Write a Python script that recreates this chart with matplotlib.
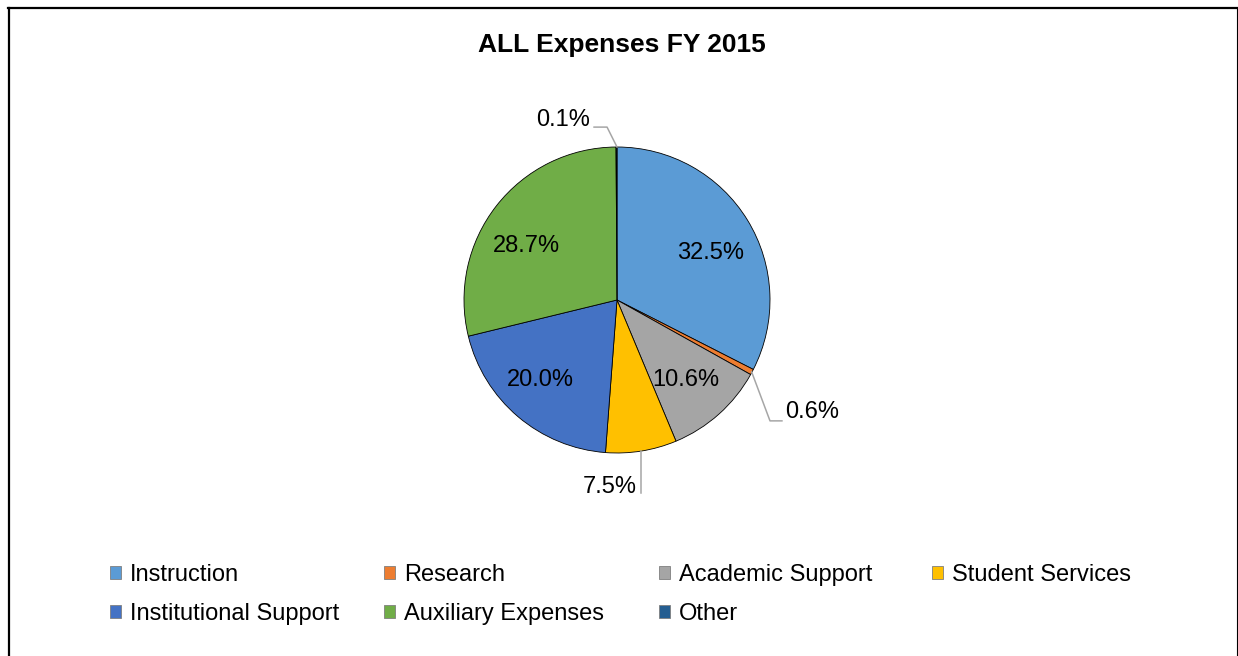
import matplotlib.pyplot as plt
from matplotlib.patches import Patch
from matplotlib.lines import Line2D

plt.rcParams['font.family'] = ['Liberation Sans', 'DejaVu Sans']

categorias = ['Instruction', 'Research', 'Academic Support', 'Student Services',
              'Institutional Support', 'Auxiliary Expenses', 'Other']
porcentajes = [32.5, 0.6, 10.6, 7.5, 20.0, 28.7, 0.1]
colores = ['#5B9BD5', '#ED7D31', '#A5A5A5', '#FFC000', '#4472C4', '#70AD47', '#255E91']
titulo = 'ALL Expenses FY 2015'

W, H = 1238, 656
fig = plt.figure(figsize=(W / 100, H / 100), dpi=100)

# marco del grafico
fig.add_artist(Line2D([9 / W, 9 / W], [0, 1 - 8 / H], color='black', lw=1.6))
fig.add_artist(Line2D([8 / W, 1237 / W], [1 - 8 / H, 1 - 8 / H], color='black', lw=1.6))
fig.add_artist(Line2D([1237 / W, 1237 / W], [0, 1 - 8 / H], color='black', lw=0.8))

fig.text(622 / W, 1 - 45 / H, titulo, ha='center', va='center',
         fontsize=19, fontweight='bold')

# ejes cuadrados para el pastel (radio 153 px, centro en 617,300)
R = 153
ax = fig.add_axes([(617 - R) / W, (H - 300 - R) / H, 2 * R / W, 2 * R / H])

wedges, _ = ax.pie(porcentajes, colors=colores, startangle=90, counterclock=False,
                   radius=1, wedgeprops=dict(edgecolor='black', linewidth=0.6))
ax.set_xlim(-1, 1)
ax.set_ylim(-1, 1)
ax.axis('off')

# etiquetas dentro de las porciones grandes
dentro = {0: (0.61, 0.31), 2: (0.45, -0.52), 4: (-0.5, -0.52), 5: (-0.59, 0.35)}
for i, (x, y) in dentro.items():
    ax.text(x, y, f'{porcentajes[i]:.1f}%', ha='center', va='center', fontsize=17)

# etiquetas fuera con lineas guia
gris = '#A6A6A6'
ax.plot([0.88, 1.0, 1.078], [-0.47, -0.79, -0.79], color=gris, lw=1.1, clip_on=False)
ax.text(1.10, -0.73, f'{porcentajes[1]:.1f}%', ha='left', va='center', fontsize=17)

ax.plot([0.157, 0.157], [-0.99, -1.26], color=gris, lw=1.1, clip_on=False)
ax.text(0.13, -1.22, f'{porcentajes[3]:.1f}%', ha='right', va='center', fontsize=17)

ax.plot([0.0, -0.065, -0.15], [1.0, 1.13, 1.13], color=gris, lw=1.1, clip_on=False)
ax.text(-0.175, 1.176, f'{porcentajes[6]:.1f}%', ha='right', va='center', fontsize=17)

# leyenda en cuatro columnas de ancho fijo
columnas = [[0, 4], [1, 5], [2, 6], [3]]
xs = [111, 385, 660, 933]
for idx, x in zip(columnas, xs):
    handles = [Patch(facecolor=colores[i], edgecolor='#7F7F7F', linewidth=0.6) for i in idx]
    labels = [categorias[i] for i in idx]
    leg = fig.legend(handles, labels, loc='upper left',
                     bbox_to_anchor=((x - 1) / W, 1 - 564 / H),
                     frameon=False, fontsize=17, borderpad=0, borderaxespad=0,
                     handlelength=0.48, handleheight=0.48, handletextpad=0.38,
                     labelspacing=0.72)

fig.savefig('out.png', dpi=100)
